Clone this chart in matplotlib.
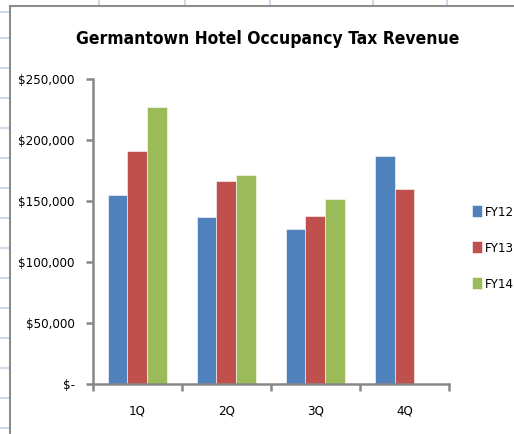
import numpy as np
import matplotlib
matplotlib.use("Agg")
import matplotlib.pyplot as plt
from matplotlib.lines import Line2D

plt.rcParams['font.family'] = ['DejaVu Sans']
plt.rcParams['font.stretch'] = 'condensed'

quarters = ["1Q", "2Q", "3Q", "4Q"]
series = ["FY12", "FY13", "FY14"]
fy12 = [155000, 137000, 127000, 187000]
fy13 = [191000, 166000, 138000, 160000]
fy14 = [227000, 171000, 151500, np.nan]
y_ticks = [0, 50000, 100000, 150000, 200000, 250000]
colors = ["#4F81BD", "#C0504D", "#9BBB59"]


def money(v):
    if v == 0:
        return "$-"
    return "${:,.0f}".format(v)


fig = plt.figure(figsize=(5.14, 4.34), dpi=100)
W, H = 514, 434

# spreadsheet cells behind the chart
grid_c = "#C6D3E8"
for yy in [12, 38, 68, 98, 128, 158, 188, 218, 248, 278, 308, 338, 368, 398, 428]:
    fig.add_artist(Line2D([0, 9 / W], [1 - yy / H] * 2, color=grid_c, lw=1.2))
for xx in [99, 185, 270, 373, 447]:
    fig.add_artist(Line2D([xx / W] * 2, [1, 1 - 5 / H], color=grid_c, lw=1.2))
# chart border
fig.add_artist(Line2D([10 / W, 10 / W], [0, 1 - 6 / H], color="#8C8C8C", lw=1.5))
fig.add_artist(Line2D([10 / W, 1], [1 - 6 / H] * 2, color="#8C8C8C", lw=1.5))

ax = fig.add_axes([92.7 / W, 1 - 384 / H, (449 - 92.7) / W, (384 - 79) / H])

x = np.arange(len(quarters)) + 0.5
bw = 1 / 4.5
for i, (name, vals) in enumerate(zip(series, [fy12, fy13, fy14])):
    ax.bar(x + (i - 1) * bw, vals, width=bw, color=colors[i], label=name,
           edgecolor="white", linewidth=0.4)

ax.set_xlim(0, 4)
ax.set_ylim(0, 250000)
ax.set_yticks(y_ticks)
ax.set_yticklabels([money(v) for v in y_ticks])
ax.set_xticks(np.arange(5))
ax.set_xticklabels([])
ax.set_xticks(x, minor=True)
ax.set_xticklabels(quarters, minor=True)

axis_c = "#878787"
for s in ["top", "right"]:
    ax.spines[s].set_visible(False)
for s in ["left", "bottom"]:
    ax.spines[s].set_color(axis_c)
    ax.spines[s].set_linewidth(1.8)
ax.tick_params(axis="y", direction="out", length=5, width=1.8, color=axis_c,
               labelsize=9.5, pad=8)
ax.tick_params(axis="x", which="major", direction="out", length=5, width=1.8,
               color=axis_c)
ax.tick_params(axis="x", which="minor", length=0, labelsize=9.5, pad=15)

fig.text(0.5 * (85 + 450) / W, 1 - 39 / H,
         "Germantown Hotel Occupancy Tax Revenue",
         ha="center", va="center", fontsize=12.5, fontweight="bold")

ax.legend(loc="center left", bbox_to_anchor=(472 / W, 1 - 248 / H),
          bbox_transform=fig.transFigure, frameon=False, fontsize=9.5,
          handlelength=0.75, handleheight=1.0, handletextpad=0.25,
          labelspacing=1.7, borderpad=0, borderaxespad=0)

fig.savefig("out.png", dpi=100)
